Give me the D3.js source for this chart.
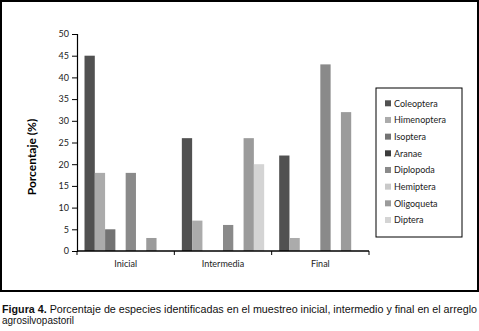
<!DOCTYPE html>
<html lang="es">
<head>
<meta charset="utf-8">
<title>Porcentaje de especies</title>
<script src="https://d3js.org/d3.v7.min.js"></script>
<style>
  body { margin: 0; background: #fff; }
  svg { display: block; }
  .tick text { font-family: Lato, "Open Sans", sans-serif; font-size: 9px; fill: #222; }
  .axis path, .axis line { stroke: #000; }
  .ylabel { font-family: Lato, "Open Sans", sans-serif; font-size: 12px; font-weight: bold; }
  .legend text { font-family: Lato, "Open Sans", sans-serif; font-size: 9px; fill: #222; }
  .caption { font-family: "Liberation Sans", Arial, sans-serif; font-size: 10px; fill: #111; }
</style>
</head>
<body>
<svg width="479" height="331"></svg>
<script>
// data
const groups = ['Inicial', 'Intermedia', 'Final'];
const orders = ['Coleoptera', 'Himenoptera', 'Isoptera', 'Aranae', 'Diplopoda', 'Hemiptera', 'Oligoqueta', 'Diptera'];
const colors = ['#515151', '#ababab', '#737373', '#3c3c3c', '#8a8a8a', '#c9c9c9', '#9b9b9b', '#d4d4d4'];
const inicial    = [45, 18, 5, 0, 18, 0, 3, 0];
const intermedia = [26, 7, 0, 0, 6, 0, 26, 20];
const final      = [22, 3, 0, 0, 43, 0, 32, 0];
const yTicks = [0, 5, 10, 15, 20, 25, 30, 35, 40, 45, 50];

const values = [inicial, intermedia, final];

const svg = d3.select('svg');

// outer frame
svg.append('rect')
    .attr('x', 1).attr('y', 1)
    .attr('width', 477).attr('height', 290)
    .attr('fill', 'none').attr('stroke', '#000').attr('stroke-width', 2);

const x0 = d3.scaleBand().domain(groups).range([77, 369]).padding(0);
const x1 = d3.scaleBand().domain(orders).range([0, x0.bandwidth()])
    .paddingInner(0).paddingOuter(0.73);
const y = d3.scaleLinear().domain([0, 50]).range([251, 34]);

// bars
const gGroups = svg.append('g').selectAll('g')
    .data(groups)
    .join('g')
    .attr('transform', d => `translate(${x0(d)},0)`);

gGroups.selectAll('rect')
    .data((d, i) => orders.map((o, j) => ({ order: o, value: values[i][j], color: colors[j] })))
    .join('rect')
    .attr('x', d => x1(d.order))
    .attr('width', x1.bandwidth())
    .attr('y', d => y(d.value))
    .attr('height', d => y(0) - y(d.value))
    .attr('fill', d => d.color);

// y axis
svg.append('g')
    .attr('class', 'axis')
    .attr('transform', 'translate(77,0)')
    .call(d3.axisLeft(y).tickValues(yTicks).tickSize(5).tickPadding(3))
    .call(g => g.select('.domain').attr('stroke-width', 1.2));

// x axis with ticks at group boundaries
const xAxis = svg.append('g')
    .attr('class', 'axis')
    .attr('transform', 'translate(0,251)');
xAxis.append('line')
    .attr('x1', 77).attr('x2', 369)
    .attr('stroke', '#000').attr('stroke-width', 1.5);
xAxis.selectAll('line.tk')
    .data(groups.map(g => x0(g)).concat([x0.range()[1]]))
    .join('line')
    .attr('class', 'tk')
    .attr('x1', d => d).attr('x2', d => d)
    .attr('y1', 0).attr('y2', 4)
    .attr('stroke', '#000');
xAxis.selectAll('text')
    .data(groups)
    .join('text')
    .attr('x', d => x0(d) + x0.bandwidth() / 2)
    .attr('y', 16)
    .attr('text-anchor', 'middle')
    .style('font-family', 'Lato, "Open Sans", sans-serif')
    .style('font-size', '9px')
    .attr('fill', '#222')
    .text(d => d);

// y label
svg.append('text')
    .attr('class', 'ylabel')
    .attr('transform', 'translate(36,157) rotate(-90)')
    .attr('text-anchor', 'middle')
    .text('Porcentaje (%)');

// legend
const legend = svg.append('g').attr('class', 'legend');
legend.append('rect')
    .attr('x', 376).attr('y', 88)
    .attr('width', 86).attr('height', 149)
    .attr('fill', '#fff').attr('stroke', '#000').attr('stroke-width', 1);
const ly = d3.scalePoint().domain(orders).range([103.3, 220]);
const items = legend.selectAll('g.item')
    .data(orders.map((o, j) => ({ order: o, color: colors[j] })))
    .join('g')
    .attr('class', 'item')
    .attr('transform', d => `translate(385,${ly(d.order)})`);
items.append('rect')
    .attr('x', 0).attr('y', -3)
    .attr('width', 6).attr('height', 6)
    .attr('fill', d => d.color);
items.append('text')
    .attr('x', 9).attr('y', 3.2)
    .text(d => d.order);

// caption (narrow, justified look)
const cap = svg.append('text')
    .attr('class', 'caption')
    .attr('x', 2).attr('y', 313)
    .attr('textLength', 475)
    .attr('lengthAdjust', 'spacingAndGlyphs');
cap.append('tspan').attr('font-weight', 'bold').text('Figura 4. ');
cap.append('tspan').text('Porcentaje de especies identificadas en el muestreo inicial, intermedio y final en el arreglo');
svg.append('text')
    .attr('class', 'caption')
    .attr('x', 2).attr('y', 323.5)
    .attr('textLength', 72)
    .attr('lengthAdjust', 'spacingAndGlyphs')
    .text('agrosilvopastoril');
</script>
</body>
</html>
